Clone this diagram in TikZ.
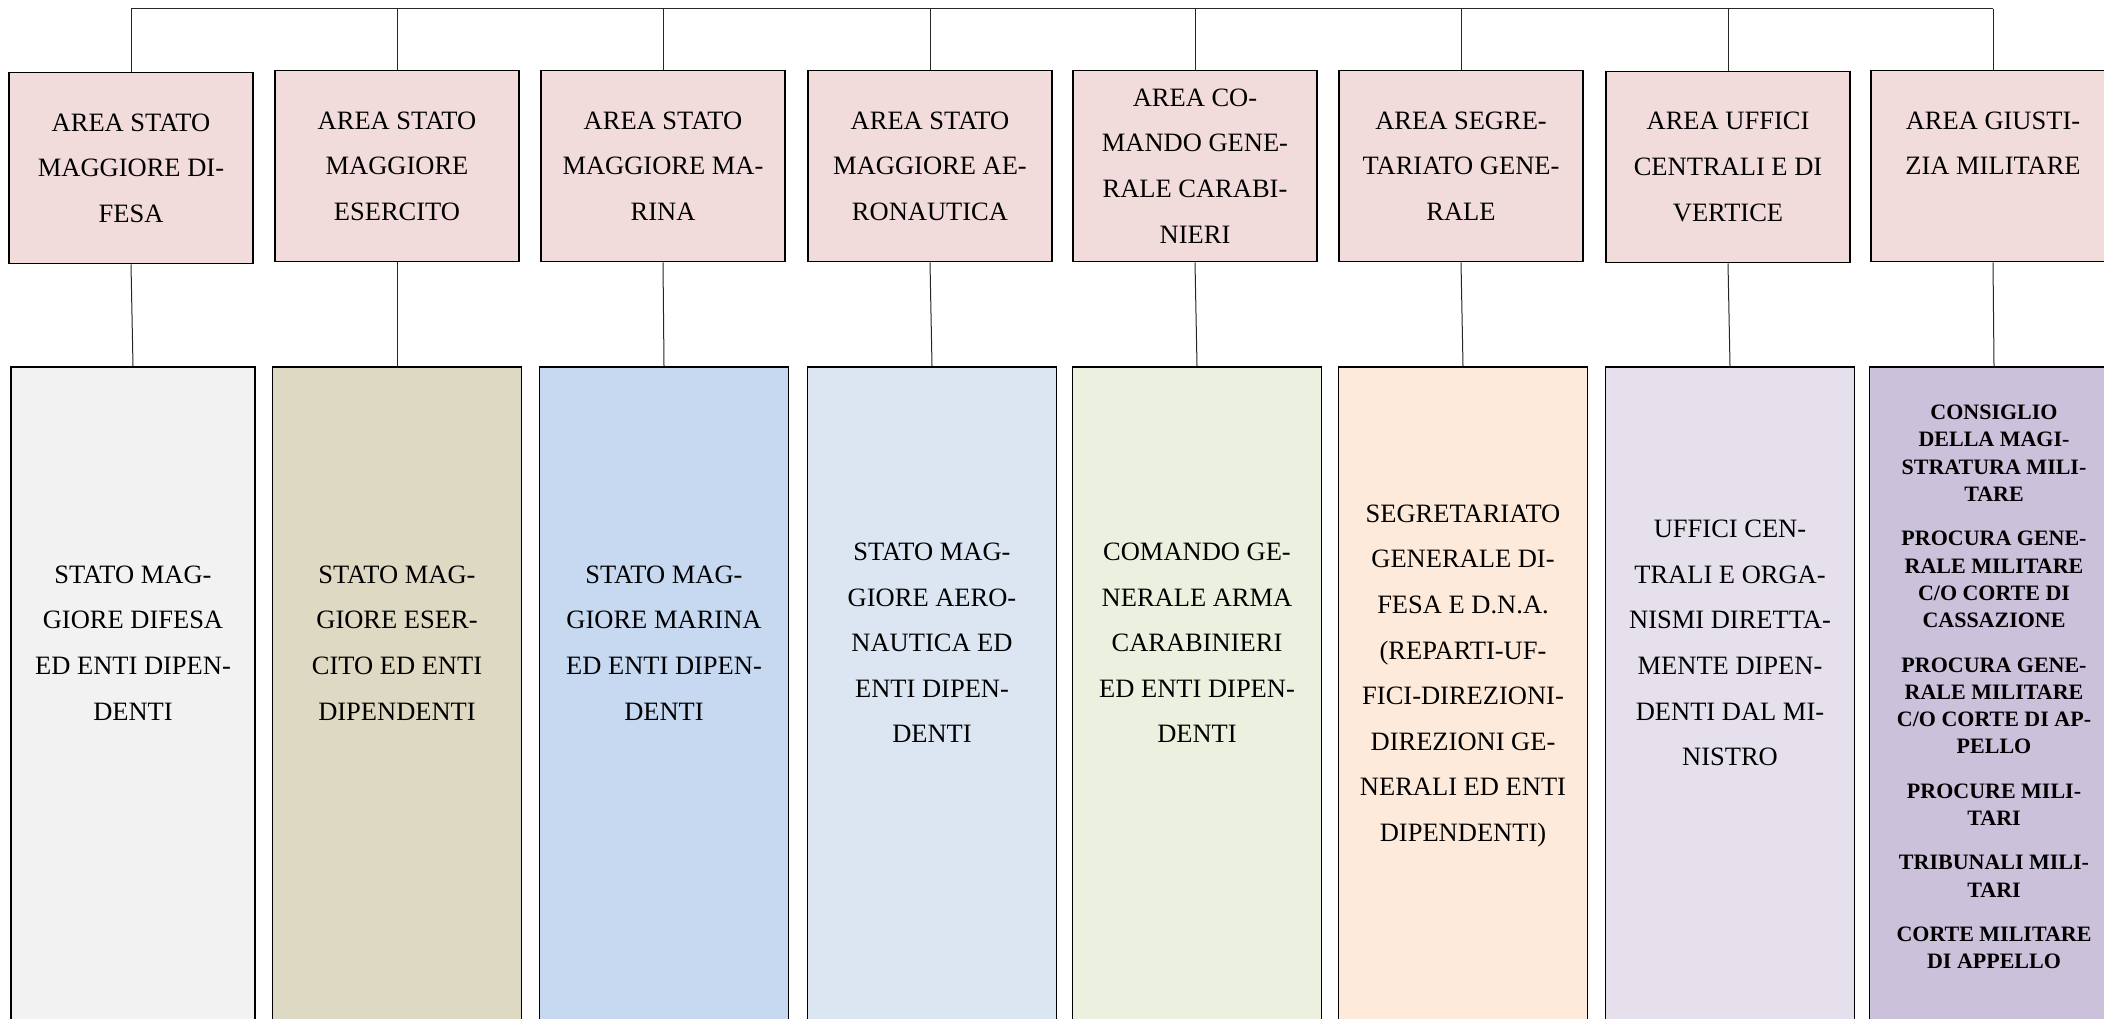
\documentclass[tikz,border=0pt]{standalone}
\usepackage{fontspec}
\setmainfont{Liberation Serif}
\usetikzlibrary{positioning,calc}
\definecolor{areapink}{HTML}{F2DCDB}
\definecolor{entigray}{HTML}{F2F2F2}
\definecolor{entitan}{HTML}{DDD9C3}
\definecolor{entiblue}{HTML}{C6D9F1}
\definecolor{entisky}{HTML}{DCE6F2}
\definecolor{entigreen}{HTML}{EBF1DE}
\definecolor{entipeach}{HTML}{FDEADA}
\definecolor{entililac}{HTML}{E6E0EC}
\definecolor{entipurple}{HTML}{CCC1DA}

\begin{document}
\begin{tikzpicture}[x=1pt,y=1pt]
  \tikzstyle{AreaStyle}=[draw,line width=1.6pt,fill=areapink,minimum width=244pt,minimum height=191pt,inner sep=0pt,align=center,font=\fontsize{26.5}{45.6}\selectfont]
  \tikzstyle{EntiStyle}=[draw,line width=1.6pt,minimum width=249pt,minimum height=700pt,anchor=north,inner sep=0pt]
  \tikzstyle{TextStyle}=[align=center,inner sep=0pt,font=\fontsize{26.5}{45.6}\selectfont]
  \tikzstyle{EdgeStyle}=[line width=1pt,draw=black!85]
  \useasboundingbox (0,0) rectangle (2104,-1019);
  \clip (0,0) rectangle (2104,-1019);
  \node[AreaStyle] (A1) at (131,-168) {AREA STATO\\MAGGIORE DI-\\FESA};
  \node[AreaStyle] (A2) at (397,-166) {AREA STATO\\MAGGIORE\\ESERCITO};
  \node[AreaStyle] (A3) at (663,-166) {AREA STATO\\MAGGIORE MA-\\RINA};
  \node[AreaStyle] (A4) at (930,-166) {AREA STATO\\MAGGIORE AE-\\RONAUTICA};
  \node[AreaStyle] (A5) at (1195,-166) {AREA CO-\\MANDO GENE-\\RALE CARABI-\\NIERI};
  \node[AreaStyle] (A6) at (1461,-166) {AREA SEGRE-\\TARIATO GENE-\\RALE};
  \node[AreaStyle] (A7) at (1728,-167) {AREA UFFICI\\CENTRALI E DI\\VERTICE};
  \node[AreaStyle] (A8) at (1993,-166) {AREA GIUSTI-\\ZIA MILITARE\\\mbox{}};
  \node[EntiStyle,fill=entigray,minimum width=244pt] (B1) at (133,-366) {};
  \node[EntiStyle,fill=entitan] (B2) at (397,-366) {};
  \node[EntiStyle,fill=entiblue] (B3) at (664,-366) {};
  \node[EntiStyle,fill=entisky] (B4) at (932,-366) {};
  \node[EntiStyle,fill=entigreen] (B5) at (1197,-366) {};
  \node[EntiStyle,fill=entipeach] (B6) at (1463,-366) {};
  \node[EntiStyle,fill=entililac] (B7) at (1730,-366) {};
  \node[EntiStyle,fill=entipurple] (B8) at (1994,-366) {};
  \node[TextStyle] (T1) at (133,-643) {STATO MAG-\\GIORE DIFESA\\ED ENTI DIPEN-\\DENTI};
  \node[TextStyle] (T2) at (397,-643) {STATO MAG-\\GIORE ESER-\\CITO ED ENTI\\DIPENDENTI};
  \node[TextStyle] (T3) at (664,-643) {STATO MAG-\\GIORE MARINA\\ED ENTI DIPEN-\\DENTI};
  \node[TextStyle] (T4) at (932,-643) {STATO MAG-\\GIORE AERO-\\NAUTICA ED\\ENTI DIPEN-\\DENTI};
  \node[TextStyle] (T5) at (1197,-643) {COMANDO GE-\\NERALE ARMA\\CARABINIERI\\ED ENTI DIPEN-\\DENTI};
  \node[TextStyle] (T6) at (1463,-676) {SEGRETARIATO\\GENERALE DI-\\FESA E D.N.A.\\(REPARTI-UF-\\FICI-DIREZIONI-\\DIREZIONI GE-\\NERALI ED ENTI\\DIPENDENTI)};
  \node[TextStyle] (T7) at (1730,-643) {UFFICI CEN-\\TRALI E ORGA-\\NISMI DIRETTA-\\MENTE DIPEN-\\DENTI DAL MI-\\NISTRO};
  \node[TextStyle,font=\fontsize{22}{27.3}\selectfont\bfseries] (T8) at (1994,-687) {CONSIGLIO\\DELLA MAGI-\\STRATURA MILI-\\TARE\\[17pt]PROCURA GENE-\\RALE MILITARE\\C/O CORTE DI\\CASSAZIONE\\[17pt]PROCURA GENE-\\RALE MILITARE\\C/O CORTE DI AP-\\PELLO\\[17pt]PROCURE MILI-\\TARI\\[17pt]TRIBUNALI MILI-\\TARI\\[17pt]CORTE MILITARE\\DI APPELLO};
  \foreach \i in {1,...,8} {
    \coordinate (P\i) at (A\i.north |- 0,-9);
    \draw[EdgeStyle] (P\i) -- (A\i.north);
    \draw[EdgeStyle] (A\i.south) -- (B\i.north);
  }
  \draw[EdgeStyle] (P1) -- (P8);
\end{tikzpicture}
\end{document}
